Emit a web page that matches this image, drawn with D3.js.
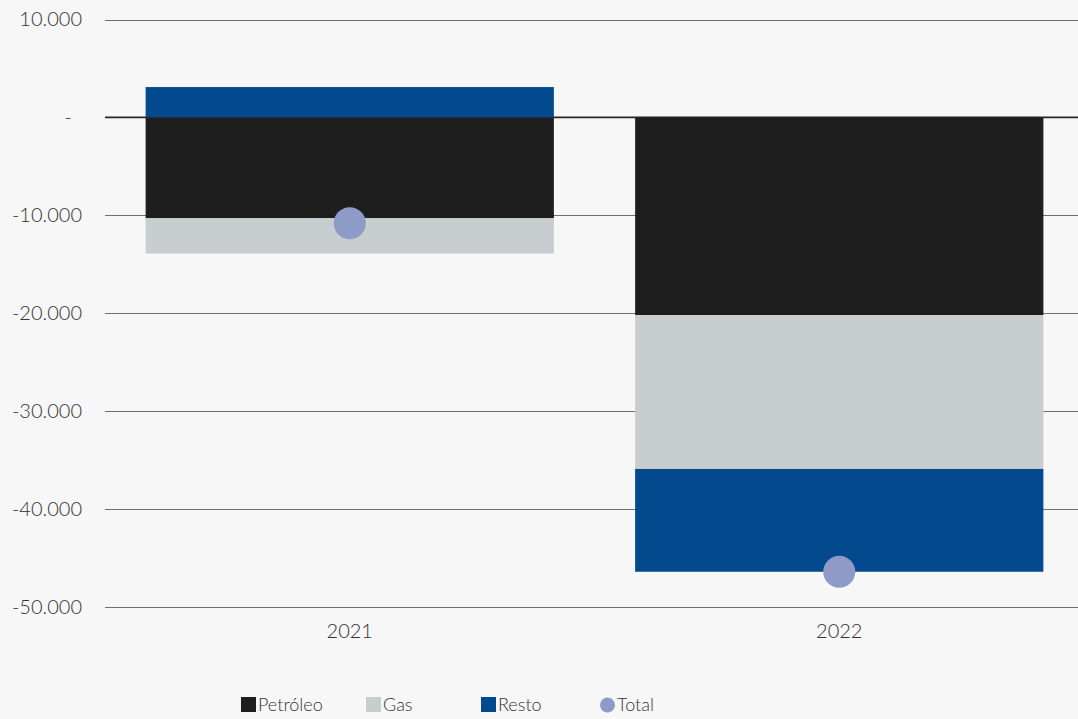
<!DOCTYPE html>
<html>
<head>
<meta charset="utf-8">
<script src="https://cdn.jsdelivr.net/npm/d3@7"></script>
<style>
  html, body { margin: 0; padding: 0; background: #f7f7f7; }
  svg { display: block; font-family: "Lato", "Open Sans", sans-serif; font-weight: 300; }
</style>
</head>
<body>
<svg id="chart" width="1078" height="719"></svg>
<script>
// ---- data ----
const categories = ["2021", "2022"];
const seriesNames = ["Petróleo", "Gas", "Resto"];
const petroleo = [-10300, -20200];
const gas = [-3600, -15700];
const resto = [3100, -10500];
const total = [-10800, -46400];
const yTicks = [10000, 0, -10000, -20000, -30000, -40000, -50000];
const yTickLabels = ["10.000", "-", "-10.000", "-20.000", "-30.000", "-40.000", "-50.000"];
const colors = ["#1e1e1e", "#c8cdd0", "#03498e"];
const totalColor = "#8e9ac8";

const svg = d3.select("#chart");
const W = 1078, H = 719;

const y = d3.scaleLinear().domain([-50000, 10000]).range([607, 19.5]);
const x = d3.scaleBand().domain(categories).range([105, 1084]).paddingInner(0.166).paddingOuter(0.083);

// y axis labels
const gAxis = svg.append("g").attr("class", "y-axis")
  .attr("transform", "translate(105,0)")
  .call(d3.axisLeft(y).tickValues(yTicks).tickSize(0).tickPadding(23)
    .tickFormat((d, i) => yTickLabels[i]));
gAxis.select(".domain").remove();
gAxis.selectAll(".tick text").attr("font-size", 20).attr("fill", "#333")
  .attr("font-family", "Lato, sans-serif").attr("font-weight", 300)
  .attr("dx", d => d === 0 ? -10 : 0);

// gridlines
svg.append("g").selectAll("line").data(yTicks.filter(d => d !== 0)).join("line")
  .attr("x1", 105).attr("x2", W)
  .attr("y1", d => Math.round(y(d)) + 0.5).attr("y2", d => Math.round(y(d)) + 0.5)
  .attr("stroke", "#6f6f6f").attr("stroke-width", 1.2);

// zero line
svg.append("line")
  .attr("x1", 105).attr("x2", W)
  .attr("y1", y(0)).attr("y2", y(0))
  .attr("stroke", "#262626").attr("stroke-width", 1.6);

// stacked bars
const rows = categories.map((c, i) => ({ cat: c, vals: [petroleo[i], gas[i], resto[i]] }));
const gBars = svg.append("g");
rows.forEach(r => {
  let pos = 0, neg = 0;
  r.vals.forEach((v, k) => {
    let y0, y1;
    if (v >= 0) { y0 = pos; y1 = pos + v; pos = y1; }
    else { y0 = neg; y1 = neg + v; neg = y1; }
    gBars.append("rect")
      .attr("x", x(r.cat)).attr("width", x.bandwidth())
      .attr("y", y(Math.max(y0, y1))).attr("height", Math.abs(y(y0) - y(y1)))
      .attr("fill", colors[k]);
  });
});

// total dots
svg.append("g").selectAll("circle").data(categories).join("circle")
  .attr("cx", d => x(d) + x.bandwidth() / 2)
  .attr("cy", (d, i) => y(total[i]))
  .attr("r", 16)
  .attr("fill", totalColor);

// x labels
svg.append("g").selectAll("text").data(categories).join("text")
  .attr("x", d => x(d) + x.bandwidth() / 2)
  .attr("y", 638)
  .attr("text-anchor", "middle")
  .attr("font-size", 20).attr("fill", "#333")
  .text(d => d);

// legend
const legendItems = [
  { name: seriesNames[0], color: colors[0], type: "rect", x: 241 },
  { name: seriesNames[1], color: colors[1], type: "rect", x: 366 },
  { name: seriesNames[2], color: colors[2], type: "rect", x: 481 },
  { name: "Total", color: totalColor, type: "circle", x: 600 }
];
const lg = svg.append("g");
legendItems.forEach(it => {
  if (it.type === "rect") {
    lg.append("rect").attr("x", it.x).attr("y", 697).attr("width", 15).attr("height", 15).attr("fill", it.color);
  } else {
    lg.append("circle").attr("cx", it.x + 7.5).attr("cy", 705).attr("r", 7.5).attr("fill", it.color);
  }
  lg.append("text").attr("x", it.x + 17).attr("y", 711)
    .attr("font-size", 18).attr("fill", "#333").text(it.name);
});
</script>
</body>
</html>
